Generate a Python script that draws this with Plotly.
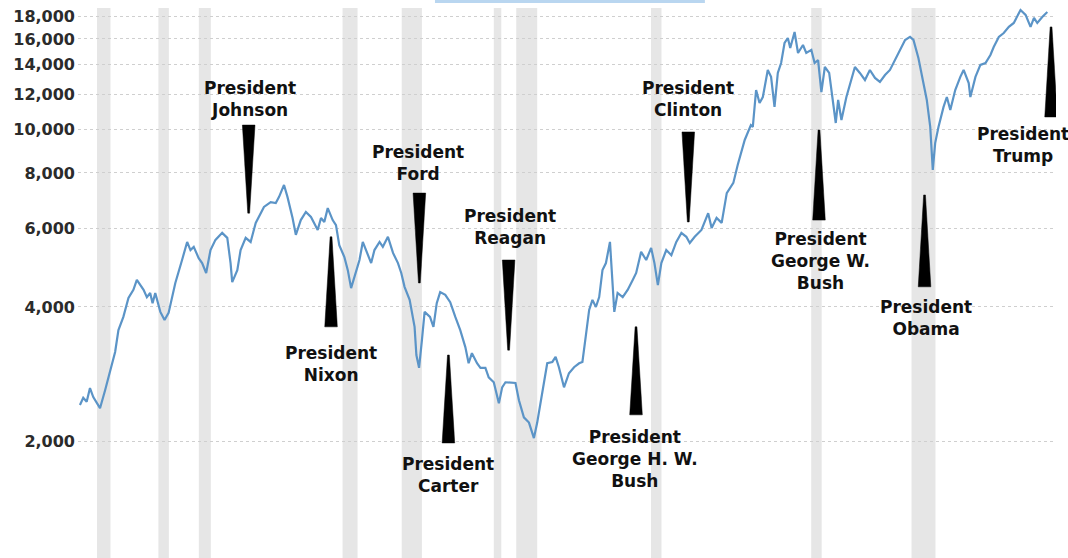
import math
import plotly.graph_objects as go

# ---------------- data ----------------
years = [
    1952.36, 1952.58, 1952.81, 1953.03, 1953.25, 1953.48, 1953.70, 1954.04, 1954.37, 1954.71,
    1954.93, 1955.26, 1955.60, 1955.93, 1956.16, 1956.38, 1956.61, 1956.83, 1957.05, 1957.21,
    1957.39, 1957.73, 1958.01, 1958.28, 1958.73, 1959.18, 1959.52, 1959.74, 1959.96, 1960.29,
    1960.52, 1960.79, 1961.08, 1961.41, 1961.86, 1962.20, 1962.42, 1962.53, 1962.87, 1963.09,
    1963.43, 1963.76, 1964.10, 1964.65, 1965.10, 1965.44, 1965.66, 1965.99, 1966.22, 1966.56,
    1966.78, 1967.11, 1967.45, 1967.79, 1968.01, 1968.24, 1968.46, 1968.68, 1968.91, 1969.24,
    1969.46, 1969.68, 1970.02, 1970.25, 1970.47, 1970.69, 1971.03, 1971.25, 1971.47, 1971.81,
    1972.03, 1972.37, 1972.59, 1972.93, 1973.27, 1973.60, 1973.82, 1974.04, 1974.38, 1974.71,
    1974.83, 1975.01, 1975.20, 1975.38, 1975.74, 1975.97, 1976.19, 1976.42, 1976.76, 1977.09,
    1977.43, 1977.76, 1978.10, 1978.32, 1978.54, 1978.88, 1979.11, 1979.44, 1979.66, 1980.00,
    1980.34, 1980.56, 1980.78, 1981.12, 1981.45, 1981.68, 1982.01, 1982.35, 1982.68, 1982.90,
    1983.24, 1983.57, 1983.91, 1984.13, 1984.35, 1984.69, 1985.02, 1985.36, 1985.70, 1985.92,
    1986.14, 1986.37, 1986.59, 1986.82, 1987.04, 1987.26, 1987.49, 1987.76, 1988.05, 1988.27,
    1988.61, 1988.94, 1989.28, 1989.51, 1989.84, 1990.18, 1990.51, 1990.73, 1990.96, 1991.19,
    1991.52, 1991.86, 1992.19, 1992.53, 1992.86, 1993.09, 1993.42, 1993.87, 1994.32, 1994.55,
    1994.88, 1995.22, 1995.56, 1996.00, 1996.29, 1996.76, 1997.17, 1997.30, 1997.52, 1997.75,
    1997.97, 1998.30, 1998.52, 1998.75, 1998.97, 1999.19, 1999.42, 1999.64, 1999.80, 2000.09,
    2000.32, 2000.65, 2000.87, 2001.21, 2001.43, 2001.66, 2001.88, 2002.11, 2002.40, 2002.66,
    2002.84, 2003.00, 2003.22, 2003.55, 2003.89, 2004.12, 2004.45, 2004.79, 2005.12, 2005.46,
    2005.79, 2006.13, 2006.46, 2006.80, 2007.13, 2007.47, 2007.80, 2008.03, 2008.36, 2008.70,
    2008.92, 2009.15, 2009.32, 2009.48, 2009.70, 2010.04, 2010.26, 2010.49, 2010.82, 2011.16,
    2011.38, 2011.72, 2011.83, 2012.17, 2012.50, 2012.84, 2013.17, 2013.39, 2013.73, 2014.06,
    2014.40, 2014.73, 2015.18, 2015.52, 2015.85, 2016.08, 2016.30, 2016.63, 2016.97,
]
dow_real = [
    2410, 2500, 2450, 2630, 2510, 2430, 2370, 2600, 2890, 3170,
    3550, 3800, 4190, 4370, 4600, 4480, 4370, 4210, 4300, 4080,
    4300, 3900, 3740, 3880, 4530, 5100, 5600, 5370, 5460, 5150,
    5020, 4770, 5370, 5660, 5870, 5720, 5020, 4550, 4840, 5370,
    5720, 5600, 6180, 6710, 6880, 6850, 7070, 7520, 7070, 6340,
    5810, 6270, 6540, 6370, 6180, 5960, 6340, 6210, 6670, 6270,
    6110, 5510, 5180, 4840, 4410, 4670, 5100, 5600, 5370, 5020,
    5370, 5600, 5460, 5750, 5290, 5020, 4770, 4440, 4150, 3610,
    3120, 2920, 3370, 3900, 3800, 3610, 4080, 4320, 4260, 4100,
    3800, 3550, 3250, 2990, 3150, 2990, 2920, 2920, 2780, 2710,
    2430, 2640, 2710, 2710, 2700, 2470, 2260, 2200, 2030, 2200,
    2600, 2990, 3010, 3090, 2930, 2640, 2840, 2930, 2990, 3010,
    3430, 3940, 4150, 4000, 4210, 4840, 5020, 5600, 3900, 4300,
    4210, 4370, 4600, 4770, 5320, 5100, 5430, 5020, 4480, 5020,
    5370, 5230, 5600, 5870, 5750, 5570, 5750, 5960, 6500, 6020,
    6340, 6180, 7210, 7600, 8340, 9490, 10250, 10150, 12290, 11490,
    11850, 13630, 13150, 11260, 13420, 14130, 15670, 16080, 15270, 16590,
    14880, 15510, 14880, 15120, 14130, 14350, 12160, 13840, 13420, 11490,
    10360, 11670, 10520, 11850, 12940, 13840, 13420, 12940, 13630, 13080,
    12810, 13280, 13630, 14350, 15120, 15920, 16170, 15920, 14500, 12740,
    11670, 10150, 8130, 9340, 10150, 11260, 11850, 11080, 12290, 13150,
    13630, 12740, 11850, 13150, 13990, 14130, 14730, 15350, 16170, 16500,
    17030, 17380, 18590, 18120, 17030, 17840, 17380, 17930, 18400,
]

recession_start = [1953.5, 1957.6, 1960.3, 1969.9, 1973.85, 1980.0, 1981.5, 1990.5, 2001.2, 2007.9]
recession_end = [1954.4, 1958.3, 1961.1, 1970.9, 1975.2, 1980.5, 1982.9, 1991.2, 2001.9, 2009.5]

tick_values = [2000, 4000, 6000, 8000, 10000, 12000, 14000, 16000, 18000]
tick_labels = ["2,000", "4,000", "6,000", "8,000", "10,000", "12,000", "14,000", "16,000", "18,000"]

president_names = [
    "President<br>Johnson", "President<br>Nixon", "President<br>Ford", "President<br>Carter",
    "President<br>Reagan", "President<br>George H. W.<br>Bush", "President<br>Clinton",
    "President<br>George W.<br>Bush", "President<br>Obama", "President<br>Trump",
]
president_years = [1963.63, 1969.13, 1975.03, 1976.97, 1980.99, 1989.50, 1992.99, 2001.72, 2008.77, 2017.22]
# wedge tip / base levels (index value at each end)
wedge_tip = [6500, 5750, 4530, 3120, 3200, 3610, 6210, 9990, 7140, 17030]
wedge_base = [10250, 3610, 7210, 1980, 5100, 2290, 9890, 6270, 4440, 10690]

# label placement (styling): x in years, paper y of label centre
label_x = [1963.69, 1969.13, 1974.96, 1976.97, 1981.07, 1989.45, 1992.99, 2001.79, 2008.90, 2015.35]
label_y = [0.8345, 0.3527, 0.7173, 0.1509, 0.6027, 0.1809, 0.8345, 0.5400, 0.4355, 0.7518]

FONT = "DejaVu Sans, sans-serif"

# ---------------- figure ----------------
fig = go.Figure()

fig.add_trace(go.Scatter(
    x=years, y=dow_real, mode="lines",
    line=dict(color="#5b94c7", width=2.2),
    hoverinfo="skip", showlegend=False,
))

HW_BASE = 0.42
HW_TIP = 0.06
for yr, tip, base in zip(president_years, wedge_tip, wedge_base):
    fig.add_trace(go.Scatter(
        x=[yr - HW_BASE, yr + HW_BASE, yr + HW_TIP, yr - HW_TIP, yr - HW_BASE],
        y=[base, base, tip, tip, base],
        mode="lines", fill="toself", fillcolor="#000000",
        line=dict(color="#000000", width=0.5),
        hoverinfo="skip", showlegend=False,
    ))

shapes = []
for s, e in zip(recession_start, recession_end):
    shapes.append(dict(type="rect", xref="x", yref="paper", x0=s, x1=e, y0=0, y1=1,
                       fillcolor="#e6e6e6", line=dict(width=0), layer="below"))
# thin light-blue strip at top
shapes.append(dict(type="rect", xref="paper", yref="paper", x0=0.365, x1=0.641,
                   y0=1.009, y1=1.0145, fillcolor="#b9d6f0", line=dict(width=0), layer="above"))

annotations = []
for name, lx, ly in zip(president_names, label_x, label_y):
    annotations.append(dict(
        x=lx, y=ly, xref="x", yref="paper", text=name,
        showarrow=False, xanchor="center", yanchor="middle", align="center",
        font=dict(family=FONT, size=17, color="#111111", weight="bold"),
    ))

fig.update_layout(
    width=1068, height=558,
    margin=dict(l=78, r=12, t=8, b=0),
    paper_bgcolor="white", plot_bgcolor="white",
    shapes=shapes, annotations=annotations,
    xaxis=dict(range=[1952.23, 2017.55], visible=False, fixedrange=True),
    yaxis=dict(
        type="log",
        range=[math.log10(1092), math.log10(18780)],
        tickvals=tick_values, ticktext=tick_labels,
        tickfont=dict(family=FONT, size=16, color="#2b2b2b", weight="bold"),
        ticklabelstandoff=2,
        showgrid=True, gridcolor="#cfcfcf", griddash="dot", gridwidth=1,
        zeroline=False, showline=False, ticks="", fixedrange=True,
    ),
)

fig.write_html(
    "out.html",
    config={"displayModeBar": False},
    post_script="document.body.style.margin='0';document.body.style.padding='0';",
)
